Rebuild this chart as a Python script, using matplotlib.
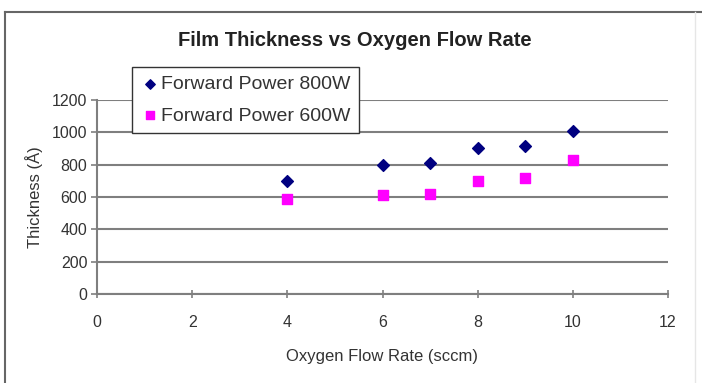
import matplotlib.pyplot as plt
from matplotlib.lines import Line2D

plt.rcParams['font.family'] = ['Liberation Sans', 'DejaVu Sans']

# data
flow_rate = [4, 6, 7, 8, 9, 10]
thick_800w = [700, 800, 810, 905, 915, 1010]
thick_600w = [585, 610, 620, 700, 720, 830]
x_ticks = [0, 2, 4, 6, 8, 10, 12]
y_ticks = [0, 200, 400, 600, 800, 1000, 1200]

W, H = 702, 383
fig = plt.figure(figsize=(W / 100, H / 100), dpi=100)
ax = fig.add_axes([97 / W, 1 - 294 / H, (668 - 97) / W, (294 - 100) / H])

grid_col = '#7f7f7f'
txt_col = '#333333'
ax.scatter(flow_rate, thick_800w, marker='D', s=36, color='#000080',
           label='Forward Power 800W', zorder=3)
ax.scatter(flow_rate, thick_600w, marker='s', s=50, color='#ff00ff',
           label='Forward Power 600W', zorder=3)

ax.set_xlim(0, 12)
ax.set_ylim(0, 1200)
ax.set_xticks(x_ticks)
ax.set_yticks(y_ticks)
ax.yaxis.grid(True, color=grid_col, linewidth=1.5)
ax.set_axisbelow(True)
for s in ['top', 'right']:
    ax.spines[s].set_visible(False)
for s in ['left', 'bottom']:
    ax.spines[s].set_color(grid_col)
    ax.spines[s].set_linewidth(1.5)
ax.tick_params(axis='x', direction='inout', length=6, width=1.2, color=grid_col,
               labelsize=11.5, labelcolor=txt_col, pad=12)
ax.tick_params(axis='y', direction='out', length=4, width=1.2, color=grid_col,
               labelsize=11.5, labelcolor=txt_col, pad=3)

ax.set_xlabel('Oxygen Flow Rate (sccm)', fontsize=12, color=txt_col, labelpad=14)
ax.set_ylabel('Thickness (Å)', fontsize=12, color=txt_col, labelpad=6)
fig.text(355 / W, 1 - 40 / H, 'Film Thickness vs Oxygen Flow Rate',
         ha='center', va='center', fontsize=14.5, fontweight='bold', color='#222222')

leg = ax.legend(loc='upper left', bbox_to_anchor=(132 / W, 1 - 67 / H),
                bbox_transform=fig.transFigure, borderaxespad=0, fancybox=False,
                edgecolor=txt_col, framealpha=1, fontsize=14, handletextpad=0.05,
                handlelength=1.0, borderpad=0.45, labelspacing=0.7, markerscale=0.8)
leg.get_frame().set_linewidth(1.0)
for t in leg.get_texts():
    t.set_color(txt_col)

# outer chart border
fig.add_artist(Line2D([5 / W, 5 / W], [0, 1 - 12 / H], transform=fig.transFigure,
                      color='#666666', linewidth=1.5))
fig.add_artist(Line2D([5 / W, 1], [1 - 12 / H, 1 - 12 / H], transform=fig.transFigure,
                      color='#666666', linewidth=1.5))
fig.add_artist(Line2D([695 / W, 695 / W], [0, 1 - 12 / H], transform=fig.transFigure,
                      color='#e6e6e6', linewidth=1.0))

fig.savefig('out.png', dpi=100)
